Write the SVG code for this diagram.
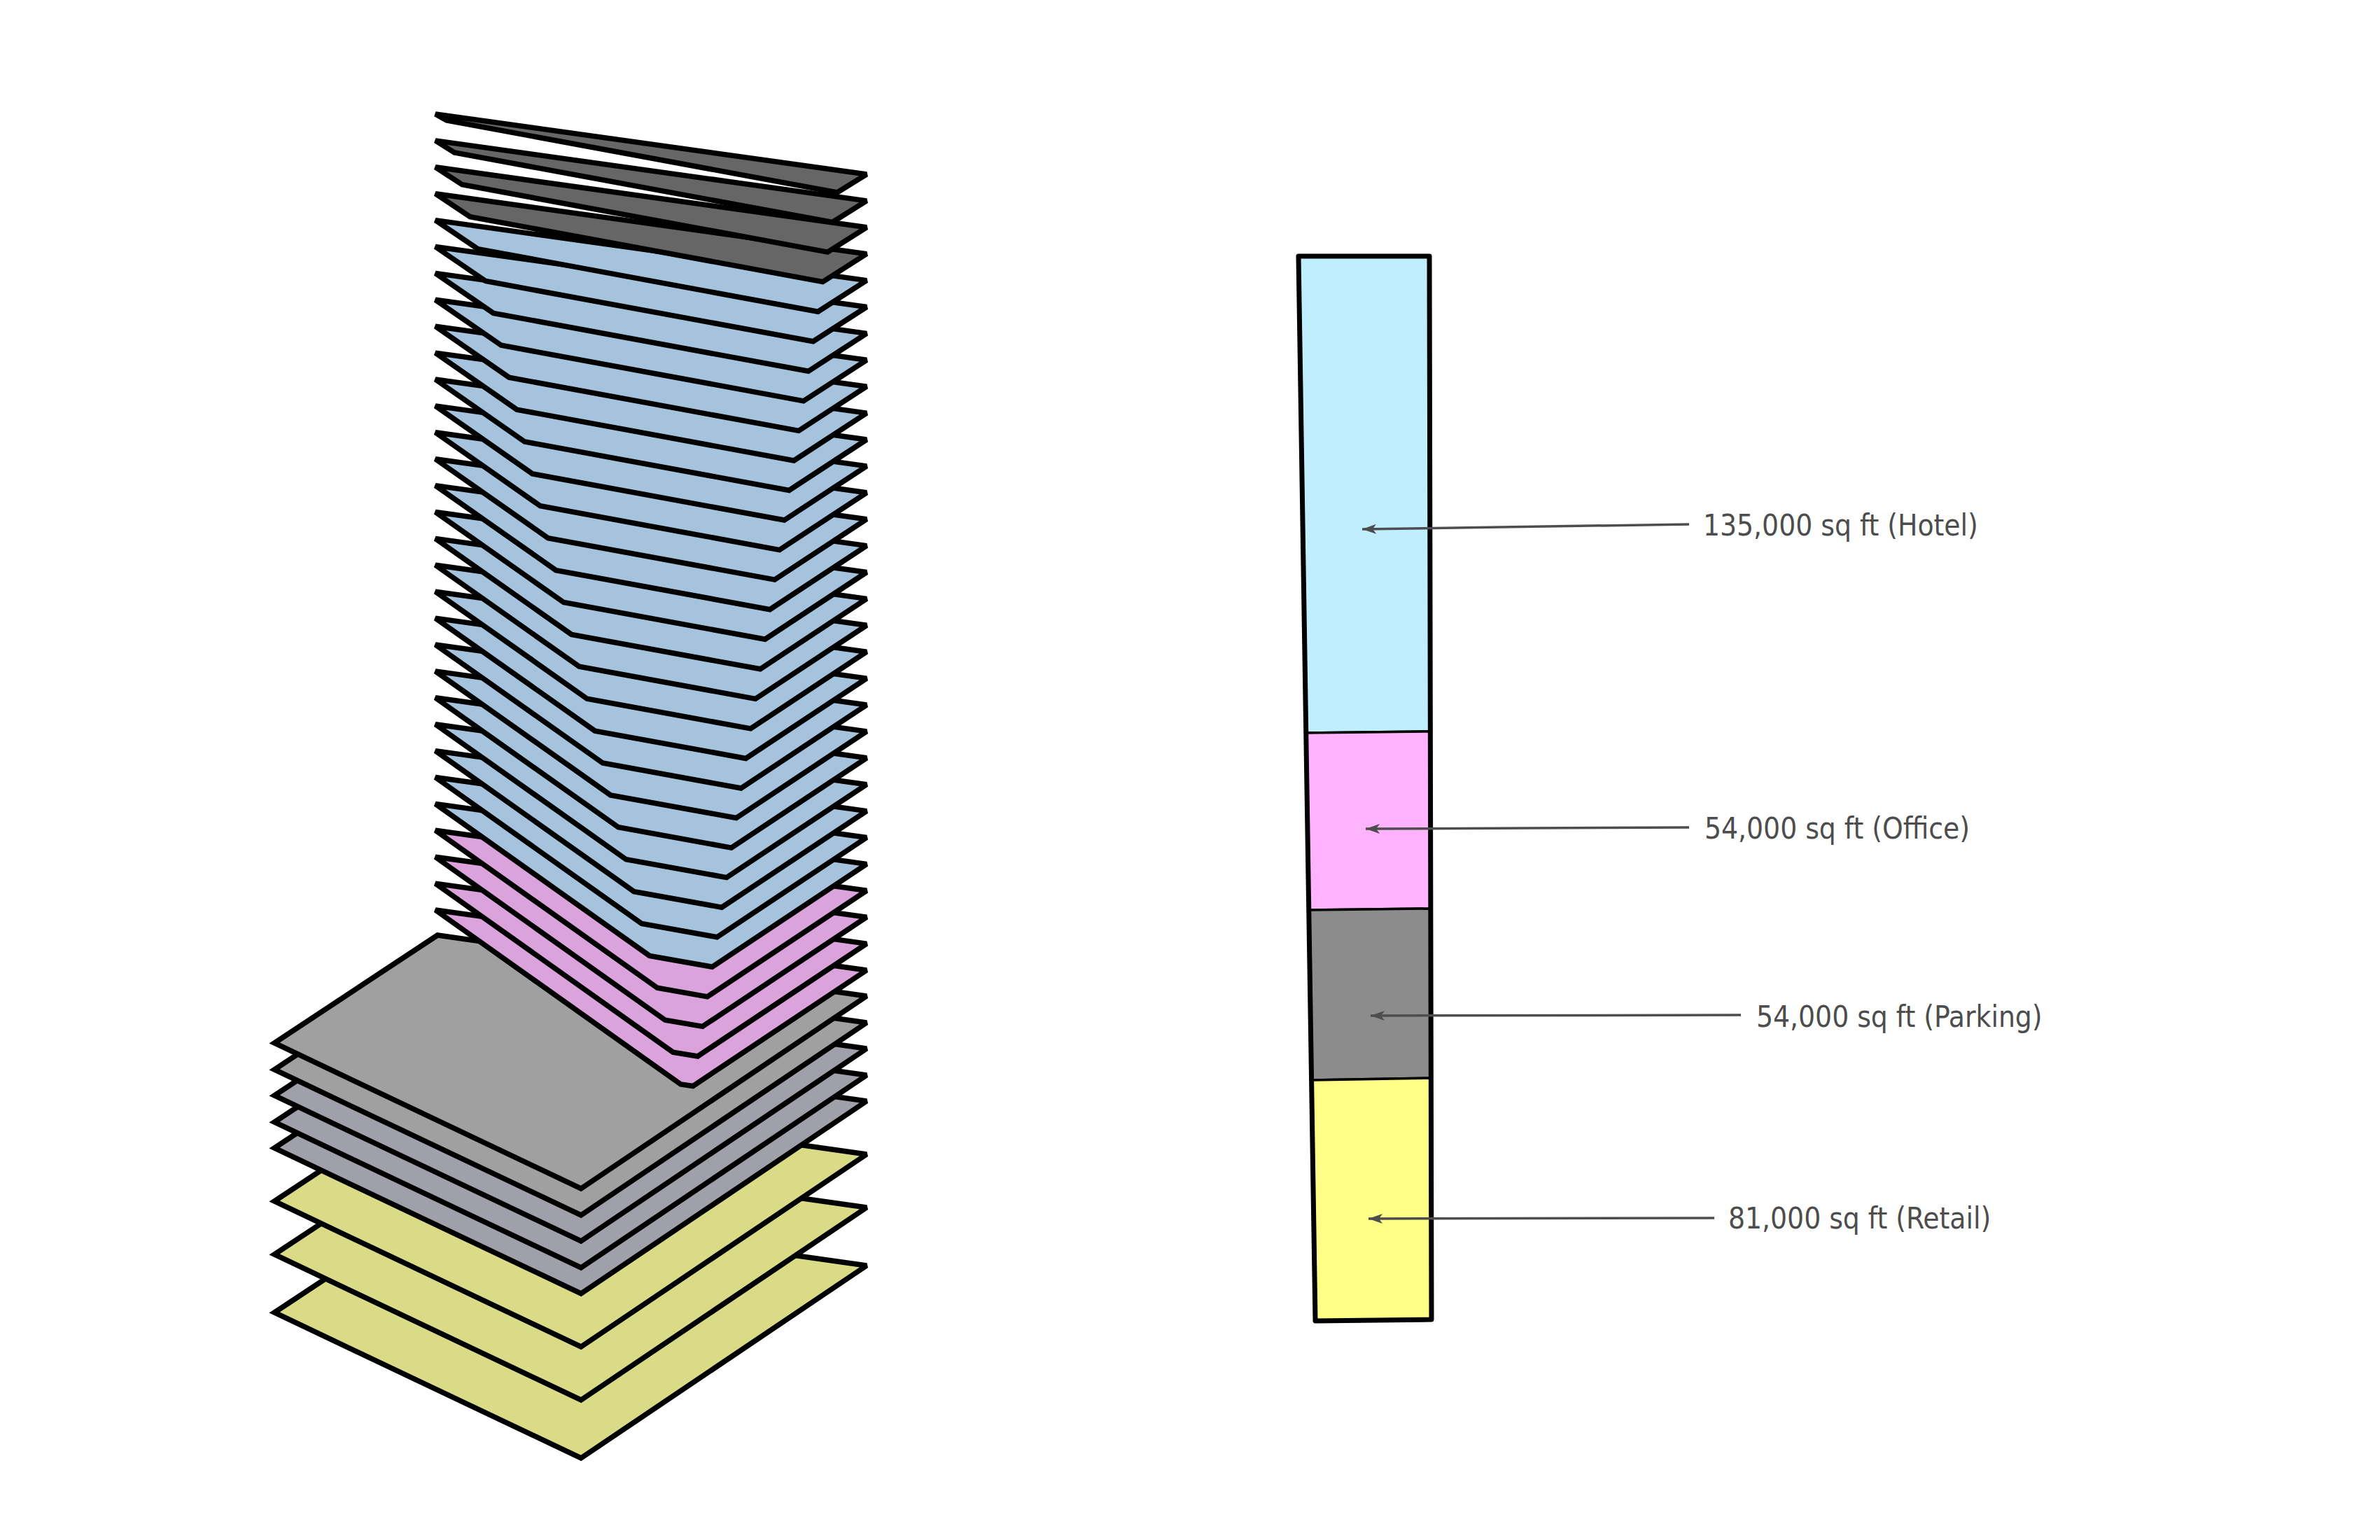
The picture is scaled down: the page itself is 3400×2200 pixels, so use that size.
<svg xmlns="http://www.w3.org/2000/svg" width="3400" height="2200" viewBox="0 0 3400 2200">
<style>
.p{stroke:#000;stroke-width:7.5;stroke-linejoin:miter;stroke-miterlimit:2.5}
.d{fill:#666}.b{fill:#a6c3dd}.k{fill:#dba3dc}.g{fill:#a0a0a0}.s{fill:#a0a0aa}.y{fill:#d9db87}
.bar{stroke:#000;stroke-width:3.5}
.frame{fill:none;stroke:#000;stroke-width:7;stroke-linejoin:round}
.c{fill:none;stroke:#4d4d4d;stroke-width:3.5;marker-end:url(#a)}
text{font-family:"DejaVu Sans Condensed","DejaVu Sans",sans-serif;font-size:42px;fill:#4d4d4d}
</style>
<defs><marker id="a" markerUnits="userSpaceOnUse" markerWidth="22" markerHeight="16" refX="20" refY="7" orient="auto"><path d="M20 7L0 0L5 7L0 14Z" fill="#4d4d4d"/></marker></defs>
<rect width="3400" height="2200" fill="#fff"/>
<g id="tower">
<g id="retail-3"><polygon class="p y" points="625,1721 392,1875 830,2083 1238,1808"/></g>
<g id="retail-2"><polygon class="p y" points="625,1638 392,1792 830,2000 1238,1725"/></g>
<g id="retail-1"><polygon class="p y" points="625,1562 392,1716 830,1924 1238,1649"/></g>
<g id="parking-5"><polygon class="p s" points="625,1486 392,1640 830,1848 1238,1573"/></g>
<g id="parking-4"><polygon class="p s" points="625,1449 392,1603 830,1811 1238,1536"/></g>
<g id="parking-3"><polygon class="p s" points="625,1411 392,1565 830,1773 1238,1498"/></g>
<g id="parking-2"><polygon class="p g" points="625,1374 392,1528 830,1736 1238,1461"/></g>
<g id="parking-1"><polygon class="p g" points="625,1336 392,1490 830,1698 1238,1423"/></g>
<g id="floor-30"><polygon class="p k" points="622,1300 1238,1386 989.9,1551.5 972.5,1549"/></g>
<g id="floor-29"><polygon class="p k" points="622,1262.1 1238,1348.1 996.77,1508.95 961.35,1503.1"/></g>
<g id="floor-28"><polygon class="p k" points="622,1224.2 1238,1310.2 1003.64,1466.4 950.2,1457.2"/></g>
<g id="floor-27"><polygon class="p k" points="622,1186.3 1238,1272.3 1010.51,1423.85 939.05,1411.3"/></g>
<g id="floor-26"><polygon class="p b" points="622,1148.4 1238,1234.4 1017.38,1381.3 927.9,1365.4"/></g>
<g id="floor-25"><polygon class="p b" points="622,1110.5 1238,1196.5 1024.25,1338.75 916.75,1319.5"/></g>
<g id="floor-24"><polygon class="p b" points="622,1072.6 1238,1158.6 1031.12,1296.2 905.6,1273.6"/></g>
<g id="floor-23"><polygon class="p b" points="622,1034.7 1238,1120.7 1037.99,1253.65 894.45,1227.7"/></g>
<g id="floor-22"><polygon class="p b" points="622,996.8 1238,1082.8 1044.86,1211.1 883.3,1181.8"/></g>
<g id="floor-21"><polygon class="p b" points="622,958.9 1238,1044.9 1051.73,1168.55 872.15,1135.9"/></g>
<g id="floor-20"><polygon class="p b" points="622,921 1238,1007 1058.6,1126 861,1090"/></g>
<g id="floor-19"><polygon class="p b" points="622,883.1 1238,969.1 1065.47,1083.45 849.85,1044.1"/></g>
<g id="floor-18"><polygon class="p b" points="622,845.2 1238,931.2 1072.34,1040.9 838.7,998.2"/></g>
<g id="floor-17"><polygon class="p b" points="622,807.3 1238,893.3 1079.21,998.35 827.55,952.3"/></g>
<g id="floor-16"><polygon class="p b" points="622,769.4 1238,855.4 1086.08,955.8 816.4,906.4"/></g>
<g id="floor-15"><polygon class="p b" points="622,731.5 1238,817.5 1092.95,913.25 805.25,860.5"/></g>
<g id="floor-14"><polygon class="p b" points="622,693.6 1238,779.6 1099.82,870.7 794.1,814.6"/></g>
<g id="floor-13"><polygon class="p b" points="622,655.7 1238,741.7 1106.69,828.15 782.95,768.7"/></g>
<g id="floor-12"><polygon class="p b" points="622,617.8 1238,703.8 1113.56,785.6 771.8,722.8"/></g>
<g id="floor-11"><polygon class="p b" points="622,579.9 1238,665.9 1120.43,743.05 760.65,676.9"/></g>
<g id="floor-10"><polygon class="p b" points="622,542 1238,628 1127.3,700.5 749.5,631"/></g>
<g id="floor-9"><polygon class="p b" points="622,504.1 1238,590.1 1134.17,657.95 738.35,585.1"/></g>
<g id="floor-8"><polygon class="p b" points="622,466.2 1238,552.2 1141.04,615.4 727.2,539.2"/></g>
<g id="floor-7"><polygon class="p b" points="622,428.3 1238,514.3 1147.91,572.85 716.05,493.3"/></g>
<g id="floor-6"><polygon class="p b" points="622,390.4 1238,476.4 1154.78,530.3 704.9,447.4"/></g>
<g id="floor-5"><polygon class="p b" points="622,352.5 1238,438.5 1161.65,487.75 693.75,401.5"/></g>
<g id="floor-4"><polygon class="p b" points="622,314.6 1238,400.6 1168.52,445.2 682.6,355.6"/></g>
<g id="floor-3"><polygon class="p d" points="622,276.7 1238,362.7 1175.39,402.65 671.45,309.7"/></g>
<g id="floor-2"><polygon class="p d" points="622,238.8 1238,324.8 1182.26,360.1 660.3,263.8"/></g>
<g id="floor-1"><polygon class="p d" points="622,200.9 1238,286.9 1189.13,317.55 649.15,217.9"/></g>
<g id="floor-0"><polygon class="p d" points="622,163 1238,249 1196,275 638,172"/></g>
</g>
<g id="bar">
<g id="bar-hotel"><polygon class="bar" fill="#bfefff" points="1855,365 2042,365 2043,1045 1866,1047"/></g>
<g id="bar-office"><polygon class="bar" fill="#ffb3ff" points="1866,1047 2043,1045 2043,1298 1870,1300"/></g>
<g id="bar-parking"><polygon class="bar" fill="#8c8c8c" points="1870,1300 2043,1298 2044,1540 1874,1543"/></g>
<g id="bar-retail"><polygon class="bar" fill="#ffff88" points="1874,1543 2044,1540 2045,1885 1879,1887"/></g>
<polygon class="frame" points="1855,366 2042,366 2045,1885 1879,1887"/>
</g>
<g id="connectors">
<path class="c" d="M2413 749L1946 756"/>
<path class="c" d="M2413 1182L1951 1184"/>
<path class="c" d="M2487 1450L1958 1451"/>
<path class="c" d="M2449 1740L1955 1741"/>
</g>
<g id="labels">
<text x="2433" y="765">135,000 sq ft (Hotel)</text>
<text x="2435" y="1198">54,000 sq ft (Office)</text>
<text x="2509" y="1467">54,000 sq ft (Parking)</text>
<text x="2469" y="1755">81,000 sq ft (Retail)</text>
</g>
</svg>
